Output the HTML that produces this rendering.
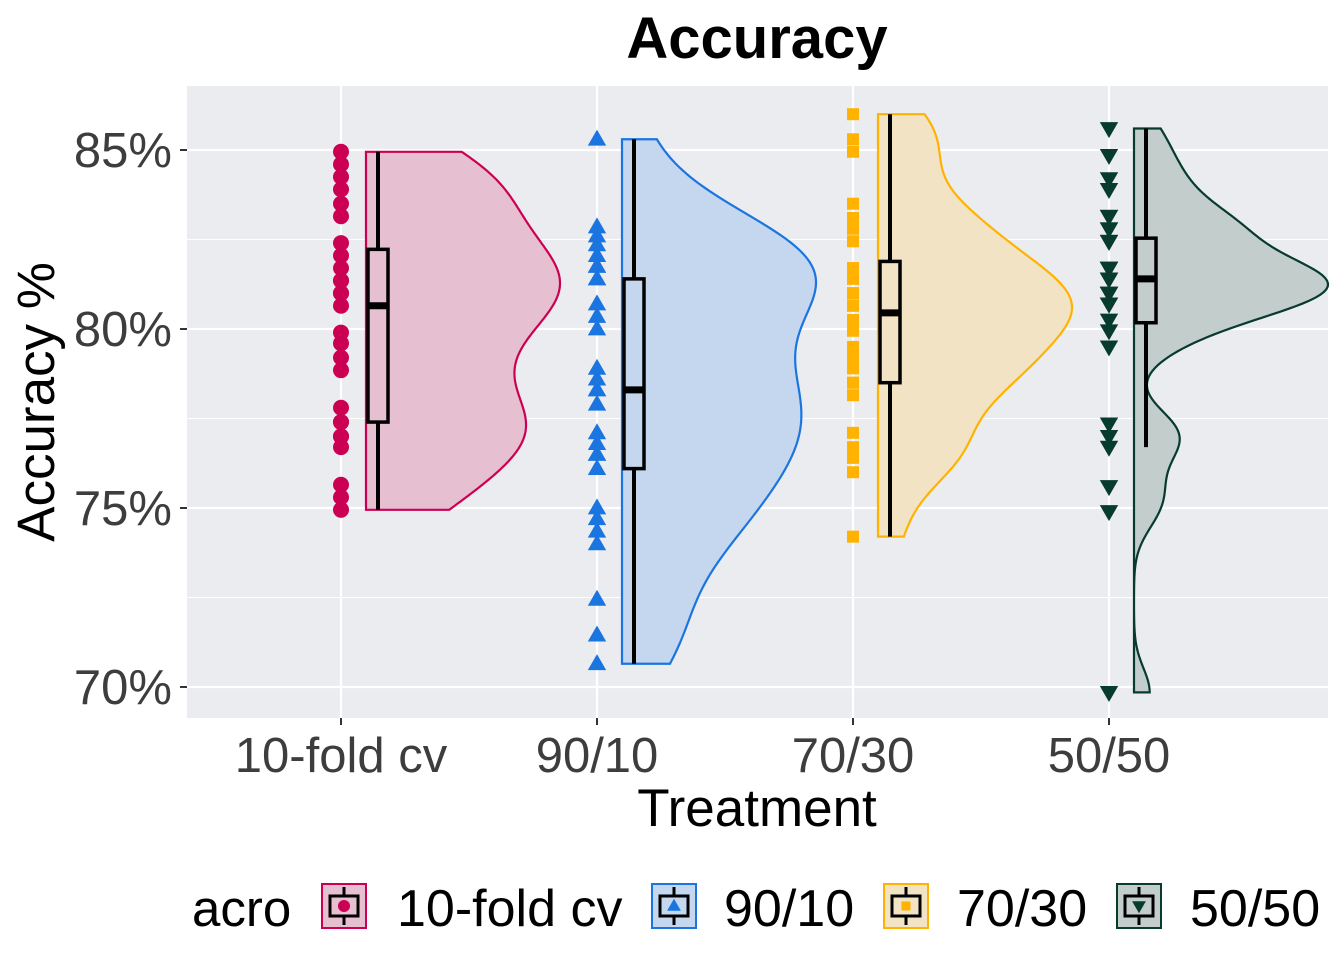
<!DOCTYPE html>
<html><head><meta charset="utf-8"><style>
body{margin:0;background:#fff;font-family:"Liberation Sans",Arial,sans-serif}
svg text{font-family:"Liberation Sans",Arial,sans-serif}
</style></head><body>
<svg id="chart" width="1344" height="960" viewBox="0 0 1344 960" xmlns="http://www.w3.org/2000/svg">
<rect width="1344" height="960" fill="#fff"/>
<rect x="187" y="86" width="1141" height="632" fill="#ebecf0"/>
<g id="grid"></g><g id="marks"></g><g id="axes"></g>
<text x="757" y="58" font-size="58" font-weight="bold" text-anchor="middle">Accuracy</text>
<text x="757" y="826" font-size="53" text-anchor="middle">Treatment</text>
<text transform="translate(54,402) rotate(-90)" font-size="53" text-anchor="middle">Accuracy %</text>
<g id="legend"></g>
</svg>
<script>
const categories = ["10-fold cv","90/10","70/30","50/50"];
const colors = ["#cc0052","#1a75e0","#ffb300","#073b2e"];
const fills = ["#e6bfd1","#c5d6ef","#f2e3c5","#c3cdcc"];
const shapes = ["circle","triangle","square","triangle-down"];
const series0 = [84.95,84.6,84.25,83.9,83.5,83.15,82.4,82.05,81.7,81.35,81.0,80.65,79.9,79.6,79.2,78.85,77.8,77.4,77.0,76.7,75.65,75.3,74.95,81.0,81.35,77.4,77.0];
const series1 = [85.3,82.85,82.6,82.35,82.05,81.75,81.4,80.7,80.35,80.0,78.9,78.6,78.3,77.9,77.1,76.8,76.5,76.1,75.0,74.7,74.35,74.0,72.45,71.45,70.65,76.5,81.4,81.75,78.3];
const series2 = [86.0,85.3,84.95,83.5,83.1,82.8,82.45,81.7,81.4,81.0,80.65,80.25,79.95,79.5,79.2,78.9,78.5,78.15,77.1,76.7,76.4,76.0,74.2,81.0,80.65,81.7,80.25,78.5];
const series3 = [85.6,84.85,84.2,83.9,83.15,82.8,82.45,81.7,81.4,81.0,80.7,80.25,79.95,79.5,77.35,77.0,76.7,75.6,74.9,69.85,81.4,81.4,81.7,81.0,80.7,82.45,82.8,83.15,81.7,81.0,80.7,81.4];
const yTicks = [70,75,80,85];
const yTickLabels = ["70%","75%","80%","85%"];
const allSeries = [series0,series1,series2,series3];

const NS="http://www.w3.org/2000/svg";
const y = v => 150 + (85 - v) * 35.8;
const x = i => 341 + i * 256;
function el(tag, attrs, parent){const e=document.createElementNS(NS,tag);for(const k in attrs)e.setAttribute(k,attrs[k]);parent.appendChild(e);return e;}
const grid=document.getElementById('grid'), marks=document.getElementById('marks'), axes=document.getElementById('axes'), legend=document.getElementById('legend');

for(let i=0;i<yTicks.length-1;i++){
  const g=el('line',{x1:187,x2:1328,y1:y((yTicks[i]+yTicks[i+1])/2),y2:y((yTicks[i]+yTicks[i+1])/2),stroke:'#fff','stroke-width':1},grid);
  
  
}
yTicks.forEach((t,i)=>{
  const g=el('line',{x1:187,x2:1328,y1:y(t),y2:y(t),stroke:'#fff','stroke-width':2.2},grid);
  
  
  const tk=el('line',{x1:180,x2:187,y1:y(t),y2:y(t),stroke:'#333','stroke-width':2},axes);
  
  
  const lb=el('text',{x:172,y:y(t)+17,'font-size':49,'text-anchor':'end',fill:'#3d3d3d'},axes);
  lb.textContent=yTickLabels[i];
  
  
});
categories.forEach((c,i)=>{
  const g=el('line',{x1:x(i),x2:x(i),y1:86,y2:718,stroke:'#fff','stroke-width':2.2},grid);
  
  
  const tk=el('line',{x1:x(i),x2:x(i),y1:718,y2:725,stroke:'#333','stroke-width':2},axes);
  
  
  const lb=el('text',{x:x(i),y:772,'font-size':49,'text-anchor':'middle',fill:'#3d3d3d'},axes);
  lb.textContent=c;
  
  
});

function quantile(a,p){const s=[...a].sort((m,n)=>m-n);const h=(s.length-1)*p;const lo=Math.floor(h);return s[lo]+(s[Math.min(lo+1,s.length-1)]-s[lo])*(h-lo);}
function sd(a){const m=a.reduce((s,v)=>s+v,0)/a.length;return Math.sqrt(a.reduce((s,v)=>s+(v-m)*(v-m),0)/(a.length-1));}
function shape(kind,cx,cy,r,col,parent){
  if(kind==='circle') return el('circle',{cx:cx,cy:cy,r:r,fill:col},parent);
  if(kind==='square') return el('rect',{x:cx-r*0.75,y:cy-r*0.75,width:r*1.5,height:r*1.5,fill:col},parent);
  if(kind==='triangle') return el('polygon',{points:`${cx},${cy-r*1.2} ${cx-r*1.15},${cy+r*0.8} ${cx+r*1.15},${cy+r*0.8}`,fill:col},parent);
  return el('polygon',{points:`${cx},${cy+r*1.2} ${cx-r*1.15},${cy-r*0.8} ${cx+r*1.15},${cy-r*0.8}`,fill:col},parent);
}

allSeries.forEach((data,i)=>{
  const cx=x(i);
  const q1=quantile(data,0.25),q3=quantile(data,0.75),med=quantile(data,0.5);
  const bw=0.85*0.9*Math.min(sd(data),(q3-q1)/1.34)*Math.pow(data.length,-0.2);
  const mn=Math.min(...data),mx=Math.max(...data);
  const pts=[];let dmax=0;
  for(let k=0;k<=200;k++){const v=mn+(mx-mn)*k/200;let d=0;data.forEach(u=>{const z=(v-u)/bw;d+=Math.exp(-0.5*z*z);});pts.push([v,d]);dmax=Math.max(dmax,d);}
  const x0=cx+25,W=194;
  let dstr=`M${x0},${y(mn)}`;
  pts.forEach(p=>{dstr+=` L${x0+p[1]/dmax*W},${y(p[0])}`;});
  dstr+=` L${x0},${y(mx)} Z`;
  const v=el('path',{d:dstr,fill:fills[i],stroke:colors[i],'stroke-width':2.2},marks);
  
  
  const bx=cx+37;
  const iqr=q3-q1;
  const lw=Math.min(...data.filter(d=>d>=q1-1.5*iqr)),uw=Math.max(...data.filter(d=>d<=q3+1.5*iqr));
  const w1=el('line',{x1:bx,x2:bx,y1:y(uw),y2:y(lw),stroke:'#000','stroke-width':4},marks);
  
  
  const b=el('rect',{x:bx-10,y:y(q3),width:20,height:y(q1)-y(q3),fill:fills[i],stroke:'#000','stroke-width':3.5},marks);
  
  
  const m=el('line',{x1:bx-10,x2:bx+10,y1:y(med),y2:y(med),stroke:'#000','stroke-width':7},marks);
  
  
  data.forEach(val=>{
    const p=shape(shapes[i],cx,y(val),8,colors[i],marks);
    
    
  });
});

const lt=el('text',{x:192,y:926,'font-size':51},legend);
lt.textContent='acro';


const lx=[322,652,884,1117], tx=[397,724,957,1190];
categories.forEach((c,i)=>{
  const g=el('g',{},legend);
  
  
  el('rect',{x:lx[i],y:884,width:44,height:44,fill:fills[i],stroke:colors[i],'stroke-width':2},g);
  el('line',{x1:lx[i]+22,x2:lx[i]+22,y1:887,y2:925,stroke:'#000','stroke-width':3},g);
  el('rect',{x:lx[i]+8,y:896,width:28,height:20,fill:fills[i],stroke:'#000','stroke-width':3},g);
  shape(shapes[i],lx[i]+22,906,6,colors[i],g);
  const t=el('text',{x:tx[i],y:926,'font-size':52},g);
  t.textContent=c;
});
</script>
</body></html>
